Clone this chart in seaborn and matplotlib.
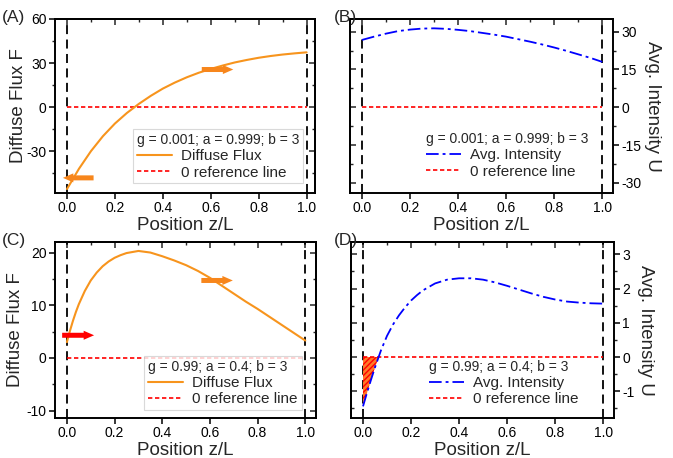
import numpy as np
import pandas as pd
import matplotlib
matplotlib.use("Agg")
import matplotlib.pyplot as plt
from matplotlib.ticker import MultipleLocator, FormatStrFormatter
import seaborn as sns

# ---------------- data ----------------
z_ab = [0.00, 0.05, 0.10, 0.15, 0.20, 0.25, 0.30, 0.35, 0.40, 0.45, 0.50,
        0.55, 0.60, 0.65, 0.70, 0.75, 0.80, 0.85, 0.90, 0.95, 1.00]
flux_A = [-55.8, -42.0, -30.0, -19.8, -11.2, -4.0, 2.2, 7.7, 12.6, 16.7, 20.3,
          23.4, 26.0, 28.3, 30.4, 32.1, 33.6, 34.8, 35.8, 36.6, 37.3]
intensity_B = [26.7, 28.0, 29.2, 30.2, 30.8, 31.2, 31.3, 31.1, 30.7, 30.2, 29.5,
               28.8, 28.0, 27.0, 26.0, 24.9, 23.7, 22.4, 21.0, 19.6, 18.0]

z_cd = [0.000, 0.0125, 0.025, 0.0375, 0.050, 0.075, 0.10, 0.125, 0.15, 0.175, 0.20, 0.225,
        0.25, 0.30, 0.35, 0.40, 0.45, 0.50, 0.55, 0.60, 0.65, 0.70, 0.75, 0.80, 0.85,
        0.90, 0.95, 1.00]
flux_C = [3.0, 5.1, 7.0, 8.7, 10.2, 12.7, 14.7, 16.2, 17.4, 18.3, 19.0, 19.5,
          19.9, 20.3, 20.0, 19.3, 18.5, 17.6, 16.5, 15.2, 13.7, 12.2, 10.7, 9.3, 7.8,
          6.3, 4.8, 3.3]
intensity_D = [-1.44, -1.14, -0.85, -0.57, -0.30, 0.20, 0.62, 0.95, 1.22, 1.45, 1.65, 1.81,
               1.95, 2.15, 2.26, 2.30, 2.30, 2.26, 2.18, 2.08, 1.97, 1.86, 1.76, 1.68, 1.62,
               1.59, 1.57, 1.56]

boundaries = [0.0, 1.0]
panel_labels = ["(A)", "(B)", "(C)", "(D)"]
titles = ["g = 0.001; a = 0.999; b = 3", "g = 0.001; a = 0.999; b = 3",
          "g = 0.99; a = 0.4; b = 3", "g = 0.99; a = 0.4; b = 3"]
flux_label = "Diffuse Flux"
int_label = "Avg. Intensity"
ref_label = "0 reference line"

# arrows: (tail_z, head_z, y, colour)
arrows_A = [(0.5625, 0.694, 25.6, "#F7861C"), (0.111, -0.017, -48.2, "#F7861C")]
arrows_C = [(-0.02, 0.114, 4.3, "#FF0000"), (0.564, 0.696, 14.7, "#F7861C")]

# ---------------- style ----------------
sns.set_style("white")
plt.rcParams["font.family"] = ["Liberation Sans", "DejaVu Sans"]
plt.rcParams["axes.unicode_minus"] = False
plt.rcParams["hatch.color"] = "#FF0000"
plt.rcParams["hatch.linewidth"] = 1.0

ORANGE = "#F7941D"
BLUE = "#0000FF"
RED = "#FF0000"

W, H = 673, 458
fig = plt.figure(figsize=(W / 100, H / 100), dpi=100)

def rect(l, r, t, b):
    return [l / W, 1 - b / H, (r - l) / W, (b - t) / H]

axA = fig.add_axes(rect(55, 315, 19, 193))
axB = fig.add_axes(rect(350, 613, 19, 193))
axC = fig.add_axes(rect(55, 316, 242, 418))
axD = fig.add_axes(rect(351, 614, 242, 418))

dfA = pd.DataFrame({"z": z_ab, "F": flux_A, "U": intensity_B, "zero": [0.0] * len(z_ab)})
dfC = pd.DataFrame({"z": z_cd, "F": flux_C, "U": intensity_D, "zero": [0.0] * len(z_cd)})

dashdot = (0, (7, 2.2, 1.6, 2.2))
refdash = (0, (2.6, 1.6))

def common(ax, ylim, major, minor, right_side, xmax):
    ax.set_xlim(-0.05, xmax)
    ax.set_ylim(*ylim)
    for s in ax.spines.values():
        s.set_linewidth(1.4)
        s.set_color("black")
    ax.xaxis.set_major_locator(MultipleLocator(0.2))
    ax.xaxis.set_minor_locator(MultipleLocator(0.1))
    ax.xaxis.set_major_formatter(FormatStrFormatter("%.1f"))
    ax.yaxis.set_major_locator(MultipleLocator(major))
    ax.yaxis.set_minor_locator(MultipleLocator(minor))
    ax.yaxis.set_major_formatter(FormatStrFormatter("%g"))
    ax.tick_params(axis="both", which="major", direction="out", length=4, width=1.1,
                   labelsize=10, colors="black", pad=2)
    ax.tick_params(axis="both", which="minor", direction="out", length=2.5, width=1.0)
    ax.tick_params(axis="x", top=False, bottom=True)
    if right_side:
        ax.yaxis.tick_right()
        ax.yaxis.set_label_position("right")
        ax.tick_params(axis="y", which="both", left=False, right=True)
        sec = ax.secondary_yaxis("left")
    else:
        ax.tick_params(axis="y", which="both", left=True, right=False)
        sec = ax.secondary_yaxis("right")
    sec.yaxis.set_major_locator(MultipleLocator(major))
    sec.yaxis.set_minor_locator(MultipleLocator(minor))
    sec.tick_params(which="major", direction="in", length=4, width=1.1, labelleft=False, labelright=False)
    sec.tick_params(which="minor", direction="in", length=2.5, width=1.0)
    sec.spines[:].set_linewidth(1.4)
    secx = ax.secondary_xaxis("top")
    secx.xaxis.set_major_locator(MultipleLocator(0.2))
    secx.xaxis.set_minor_locator(MultipleLocator(0.1))
    secx.tick_params(which="major", direction="in", length=4, width=1.1, labeltop=False)
    secx.tick_params(which="minor", direction="in", length=2.5, width=1.0)
    secx.spines[:].set_linewidth(1.4)
    for b in boundaries:
        ax.axvline(b, color="black", lw=1.3, ls=(0, (5, 3)), zorder=1)
    ax.set_xlabel("Position z/L", fontsize=13.5, labelpad=1)

def draw_arrows(ax, arrows):
    for tail, head, y, col in arrows:
        ax.annotate("", xy=(head, y), xytext=(tail, y),
                    arrowprops=dict(arrowstyle="simple,head_length=0.75,head_width=0.65,tail_width=0.36",
                                    color=col, lw=0, shrinkA=0, shrinkB=0, mutation_scale=10),
                    zorder=5)

def make_legend(ax, title, anchor, frame):
    leg = ax.legend(title=title, loc="lower right", bbox_to_anchor=anchor, fontsize=11,
                    title_fontsize=10, frameon=frame, fancybox=False, handlelength=2.3,
                    handletextpad=0.6, labelspacing=0.15, borderpad=0.25, borderaxespad=0,
                    alignment="left")
    if frame:
        leg.get_frame().set_edgecolor("#D0D0D0")
        leg.get_frame().set_linewidth(0.8)
    return leg

# ---- A ----
sns.lineplot(data=dfA, x="z", y="F", ax=axA, color=ORANGE, lw=1.5, label=flux_label, zorder=3)
sns.lineplot(data=dfA, x="z", y="zero", ax=axA, color=RED, lw=1.2, ls=refdash, label=ref_label, zorder=2)
common(axA, (-58.5, 60), 30, 15, False, 1.035)
axA.set_ylabel("Diffuse Flux F", fontsize=13.5, labelpad=0)
draw_arrows(axA, arrows_A)
make_legend(axA, titles[0], (0.955, 0.055), True)

# ---- B ----
sns.lineplot(data=dfA, x="z", y="U", ax=axB, color=BLUE, lw=1.3, ls=dashdot, label=int_label, zorder=3)
sns.lineplot(data=dfA, x="z", y="zero", ax=axB, color=RED, lw=1.2, ls=refdash, label=ref_label, zorder=2)
common(axB, (-34, 35), 15, 7.5, True, 1.045)
axB.set_ylabel("Avg. Intensity U", fontsize=13.5, rotation=270, labelpad=14)
make_legend(axB, titles[1], (0.92, 0.06), False)

# ---- C ----
sns.lineplot(data=dfC, x="z", y="F", ax=axC, color=ORANGE, lw=1.5, label=flux_label, zorder=3)
sns.lineplot(data=dfC, x="z", y="zero", ax=axC, color=RED, lw=1.2, ls=refdash, label=ref_label, zorder=2)
common(axC, (-11.4, 22), 10, 5, False, 1.045)
axC.set_ylabel("Diffuse Flux F", fontsize=13.5, labelpad=2)
draw_arrows(axC, arrows_C)
make_legend(axC, titles[2], (0.945, 0.045), True)

# ---- D ----
zD = np.array(z_cd)
uD = np.array(intensity_D)
axD.fill_between(zD, uD, 0, where=uD <= 0, interpolate=True, facecolor="#FF7A26",
                 edgecolor="#FF0000", hatch="//////", linewidth=0, zorder=2)
sns.lineplot(data=dfC, x="z", y="U", ax=axD, color=BLUE, lw=1.3, ls=dashdot, label=int_label, zorder=3)
sns.lineplot(data=dfC, x="z", y="zero", ax=axD, color=RED, lw=1.2, ls=refdash, label=ref_label, zorder=2)
common(axD, (-1.78, 3.36), 1, 0.5, True, 1.045)
axD.set_ylabel("Avg. Intensity U", fontsize=13.5, rotation=270, labelpad=14)
make_legend(axD, titles[3], (0.88, 0.045), False)

# panel letters
for (x, y), lab in zip([(2, 22), (334, 22), (2, 245), (334, 245)], panel_labels):
    fig.text(x / W, 1 - y / H, lab, fontsize=12.5, ha="left", va="baseline")

fig.savefig("out.png", dpi=100)
